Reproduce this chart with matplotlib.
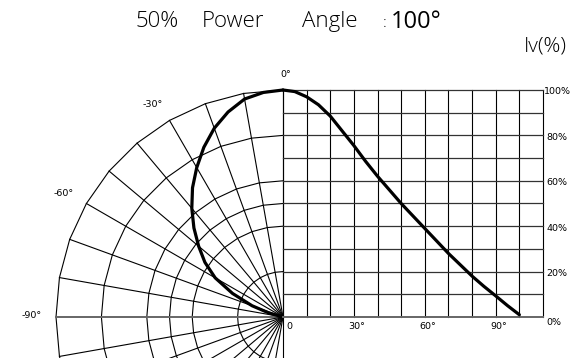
import numpy as np
import matplotlib
matplotlib.use("Agg")
import matplotlib.pyplot as plt

# ---------------- data ----------------
# right cartesian plot: relative intensity vs angle
angle_deg = [0, 5, 10, 15, 20, 25, 30, 35, 40, 45, 50, 55, 60, 65, 70, 75, 80, 85, 90, 95, 100]
iv_pct = [100, 99.3, 97, 93.5, 88.5, 82, 75.5, 68.5, 62, 56, 50, 44.5, 39, 33.5, 28, 23, 18, 13.5, 9.3, 5, 1]

# left polar plot (angles measured from the vertical, drawn to the left)
polar_angle_deg = [0, 5, 10, 15, 20, 25, 30, 35, 40, 45, 50, 55, 60, 65, 70, 74, 77]
polar_iv_pct = [100, 99.3, 97.5, 93.5, 88.5, 82.5, 76, 69.5, 62.5, 55.5, 48.5, 42, 34.5, 24.5, 14.5, 6.5, 0]

# grids / labels
polar_rings = [20, 40, 50, 60, 80, 100]
polar_spokes = list(range(0, 190, 10))
polar_label_angles = [0, 30, 60, 90]
polar_label_texts = ["0°", "-30°", "-60°", "-90°"]
x_grid = list(range(0, 120, 10))
y_grid = list(range(0, 110, 10))
x_label_vals = [0, 30, 60, 90]
x_label_texts = ["0", "30°", "60°", "90°"]
y_label_vals = [100, 80, 60, 40, 20, 0]
y_label_texts = ["100%", "80%", "60%", "40%", "20%", "0%"]
title_words = ["50%", "Power", "Angle"]
title_value = "100°"
unit_label = "Iv(%)"

# ---------------- figure ----------------
W, H = 582, 358
fig = plt.figure(figsize=(W / 100, H / 100), dpi=100)
fig.patch.set_facecolor("white")

ox, oy = 283.0, 317.0          # origin in pixels
pr = 2.27                      # pixels per % (polar and vertical)
px_deg = 2.3636                # pixels per degree on right grid

ax = fig.add_axes([0, 0, 1, 1])
ax.set_xlim(-ox / pr, (W - ox) / pr)
ax.set_ylim(-(H - oy) / pr, oy / pr)
ax.axis("off")

ax2 = ax.twiny()
ax2.set_xlim(-ox / px_deg, (W - ox) / px_deg)
ax2.set_ylim(ax.get_ylim())
ax2.axis("off")

# polar rings (polylines through 10° vertices)
sp = np.radians(np.array(polar_spokes))
for r in polar_rings:
    ax.plot(-r * np.sin(sp), r * np.cos(sp), color="black", lw=0.8, zorder=1)
# spokes
for a in polar_spokes:
    t = np.radians(a)
    col = "#666666" if a == 90 else "black"
    lw = 1.4 if a == 90 else 0.8
    ax.plot([0, -100 * np.sin(t)], [0, 100 * np.cos(t)], color=col, lw=lw, zorder=1)

# right grid
for xv in x_grid:
    ax2.plot([xv, xv], [0, 100], color="black", lw=0.8, zorder=1)
for yv in y_grid:
    col = "#666666" if yv == 0 else "#333333"
    lw = 1.4 if yv == 0 else 0.9
    ax2.plot([0, 110], [yv, yv], color=col, lw=lw, zorder=1)

# curves
ax2.plot(angle_deg, iv_pct, color="black", lw=2.3, solid_capstyle="round",
         solid_joinstyle="round", zorder=3)
pa = np.radians(np.array(polar_angle_deg))
pv = np.array(polar_iv_pct)
ax.plot(-pv * np.sin(pa), pv * np.cos(pa), color="black", lw=2.3,
        solid_capstyle="round", solid_joinstyle="round", zorder=3)

# labels
lab_font = dict(fontsize=6.8, family="DejaVu Sans", color="black")
for a, s in zip(polar_label_angles, polar_label_texts):
    t = np.radians(a)
    if a == 0:
        ax.text(1, 107, s, ha="center", va="center", **lab_font)
    else:
        ax.text(-107.5 * np.sin(t) + 1, 107.5 * np.cos(t) + 0.5, s,
                ha="right", va="center", **lab_font)
for v, s in zip(x_label_vals, x_label_texts):
    ax2.text(v + (2.6 if v == 0 else 1.3), -4, s, ha="center", va="center", **lab_font)
for v, s in zip(y_label_vals, y_label_texts):
    ax2.text(110.2 if v == 100 else 111.3, v - (2.6 if v == 0 else 0.8), s,
             ha="left", va="center", **lab_font)

# title
tfont = dict(family=["Open Sans", "DejaVu Sans"], fontweight="light", color="black")
for xpx, w in zip([157, 233, 330], title_words):
    fig.text(xpx / W, 1 - 27 / H, w, fontsize=16, ha="center", va="baseline", **tfont)
fig.text(383 / W, 1 - 27 / H, ":", fontsize=11, ha="left", va="baseline", **tfont)
fig.text(391 / W, 1 - 28 / H, title_value, fontsize=17, ha="left", va="baseline",
         family=["Open Sans", "DejaVu Sans"], color="black")
fig.text(524 / W, 1 - 51 / H, unit_label, fontsize=15, ha="left", va="baseline", **tfont)

fig.savefig("out.png", dpi=100, facecolor="white")
